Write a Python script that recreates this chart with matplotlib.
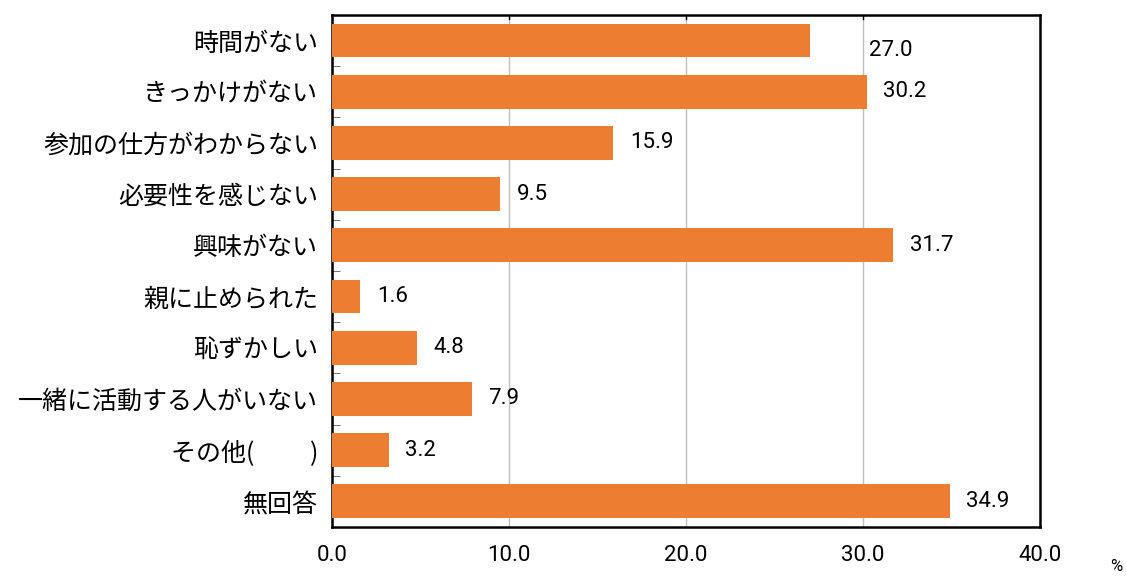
import numpy as np
import matplotlib.pyplot as plt

categories = ["時間がない", "きっかけがない", "参加の仕方がわからない", "必要性を感じない",
              "興味がない", "親に止められた", "恥ずかしい", "一緒に活動する人がいない",
              "その他(　　 )", "無回答"]
values = [27.0, 30.2, 15.9, 9.5, 31.7, 1.6, 4.8, 7.9, 3.2, 34.9]
xticks = [0, 10, 20, 30, 40]

plt.rcParams['font.family'] = ['Noto Sans CJK JP', 'DejaVu Sans']

fig = plt.figure(figsize=(11.26, 5.77), dpi=100)
ax = fig.add_axes([0.2948, 0.0867, 0.6288, 0.8873])

y = np.arange(len(categories))
ax.barh(y, values, height=0.66, color='#ED7D31', zorder=3)

for i, v in enumerate(values):
    if i == 0:
        # this label sits further right in the original
        ax.annotate(f"{v:.1f}", (30, i), xytext=(4, -7), textcoords='offset points',
                    va='center', ha='left', fontsize=16, family='Roboto')
    else:
        ax.annotate(f"{v:.1f}", (v, i), xytext=(12, 0), textcoords='offset points',
                    va='center', ha='left', fontsize=16, family='Roboto')

ax.set_ylim(len(categories) - 0.5, -0.5)
ax.set_xlim(0, 40)
ax.set_xticks(xticks)
ax.set_xticklabels([f"{t:.1f}" for t in xticks], family='Roboto', fontsize=16)
ax.tick_params(axis='x', length=0, pad=13)
ax.xaxis.grid(True, color='#BFBFBF', linewidth=1, zorder=0)
for t in xticks[1:-1]:
    ax.plot([t, t], [-0.5, -0.42], color='black', linewidth=1, zorder=4)

ax.set_yticks(y)
ax.set_yticklabels(categories, fontsize=18)
ax.tick_params(axis='y', length=0, pad=10)
ax.set_yticks(np.arange(len(categories) - 1) + 0.5, minor=True)
ax.tick_params(axis='y', which='minor', direction='in', length=6, color='#595959')

for s in ax.spines.values():
    s.set_linewidth(1.8)
    s.set_color('black')

fig.text(0.991, 0.005, "%", fontsize=12, family='Roboto', ha='center', va='bottom')

fig.savefig("out.png", dpi=100)
